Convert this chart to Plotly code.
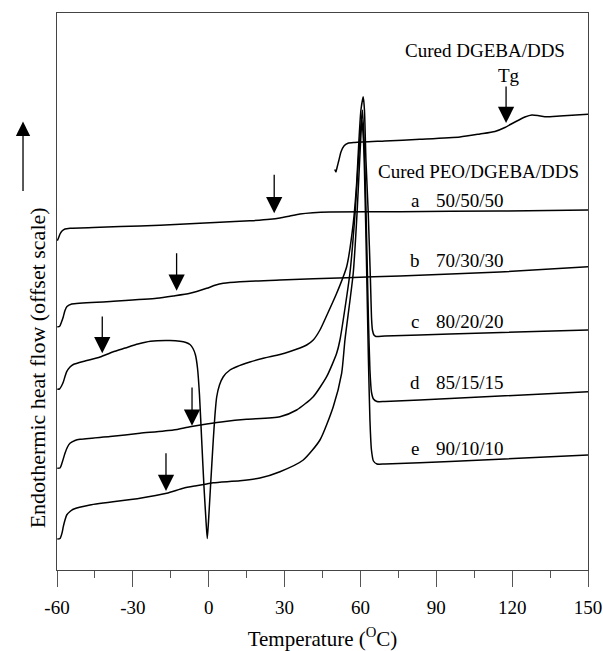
import plotly.graph_objects as go

# DSC traces, heat flow in arbitrary offset units
temp_neat = [49.84, 50.32, 50.71, 51.50, 52.30, 53.48, 55.06, 57.83, 69.69, 83.53, 99.35,
             107.26, 113.19, 117.14, 121.10, 125.05, 127.82, 130.19, 132.96, 138.89, 150.0]
hf_neat = [40.05, 39.8, 40.2, 41.0, 41.8, 42.4, 42.67, 42.75, 42.9, 43.07, 43.3,
           43.6, 43.85, 44.25, 44.8, 45.3, 45.5, 45.45, 45.33, 45.4, 45.57]

temp_a = [-59.88, -59.41, -58.81, -58.02, -56.84, -54.86, -43.0, -27.18, -11.36, 4.45,
          16.31, 24.22, 28.18, 32.13, 36.09, 41.23, 47.95, 75.63, 115.17, 150.0]
hf_a = [32.93, 33.2, 33.6, 33.9, 34.1, 34.18, 34.28, 34.4, 34.57, 34.77,
        34.92, 35.07, 35.2, 35.4, 35.6, 35.73, 35.8, 35.83, 35.9, 36.0]

temp_b = [-59.88, -59.01, -58.22, -57.51, -56.84, -56.05, -54.19, -40.35, -20.58, -14.01,
          -7.41, -0.81, 2.47, 5.76, 12.36, 28.18, 54.55, 75.63, 115.17, 150.0]
hf_b = [24.33, 24.35, 24.8, 25.33, 25.95, 26.35, 26.6, 26.83, 27.17, 27.4,
        27.67, 28.17, 28.47, 28.67, 28.83, 29.0, 29.23, 29.4, 29.8, 30.33]

temp_c = [-59.88, -59.01, -58.22, -57.51, -56.84, -56.16, -54.86, -53.55, -48.93, -43.0,
          -38.0, -33.0, -28.0, -23.0, -15.32, -11.36, -8.99, -7.41, -6.22,
          -5.24, -4.44, -3.65, -2.78, -1.87, -1.16, -0.57, 0.02, 0.70, 1.80,
          2.47, 3.15, 4.26, 5.76, 8.41, 11.06, 16.31, 21.57, 28.18, 32.13,
          36.09, 38.74, 41.34, 43.99, 46.76, 50.60, 54.55, 57.16, 58.5, 59.41,
          60.2, 61.11, 61.59, 62.18, 63.09, 63.96, 64.43, 64.75, 65.35, 66.14,
          69.69, 95.4, 150.0]
hf_c = [18.07, 18.1, 18.4, 18.8, 19.35, 19.83, 20.3, 20.55, 20.9, 21.3,
        21.8, 22.2, 22.6, 22.88, 22.95, 22.88, 22.75, 22.55, 22.15,
        21.5, 20.2, 17.5, 13.0, 8.3, 5.3, 3.15, 5.3, 8.3, 13.0,
        15.5, 17.3, 18.5, 19.33, 20.0, 20.33, 20.8, 21.17, 21.55, 21.85,
        22.2, 22.5, 23.0, 24.0, 25.5, 27.67, 30.33, 34.67, 38.67, 43.0,
        46.0, 47.33, 46.0, 41.0, 35.7, 29.0, 25.0, 24.0, 23.5, 23.35,
        23.4, 23.6, 24.0]

temp_d = [-59.88, -58.81, -58.02, -56.84, -55.85, -54.86, -52.88, -50.91, -39.04, -27.18,
          -14.01, -7.41, -0.81, 6.43, 15.01, 28.18, 34.78, 41.34, 46.64, 50.60,
          51.90, 55.85, 57.83, 59.21, 60.2, 60.8, 61.59, 62.38, 63.17, 63.76,
          64.36, 65.15, 66.53, 69.69, 95.4, 150.0]
hf_d = [10.17, 10.2, 10.7, 11.67, 12.3, 12.67, 12.95, 13.07, 13.35, 13.67,
        14.0, 14.33, 14.6, 14.85, 15.07, 15.33, 16.0, 17.33, 19.33, 21.67,
        23.0, 29.7, 35.5, 41.0, 44.5, 46.0, 42.0, 34.0, 25.0, 20.0,
        17.8, 17.1, 16.85, 16.85, 17.15, 17.83]

temp_e = [-59.88, -58.81, -58.02, -57.51, -56.84, -56.16, -54.86, -53.55, -46.95, -27.18,
          -16.62, -10.06, -5.43, -0.81, 1.80, 12.36, 20.27, 28.18, 37.39, 43.99,
          49.25, 52.57, 53.88, 57.16, 58.62, 59.61, 60.2, 60.6, 61.19, 61.59,
          62.38, 63.17, 63.76, 64.36, 65.15, 66.53, 69.69, 95.4, 150.0]
hf_e = [3.1, 3.15, 3.7, 4.33, 5.0, 5.5, 5.85, 6.07, 6.5, 7.17,
        7.67, 8.17, 8.4, 8.6, 8.73, 8.93, 9.2, 9.83, 11.0, 13.0,
        16.33, 19.67, 23.0, 29.7, 35.5, 40.5, 43.5, 45.0, 43.0, 40.0,
        31.0, 21.0, 15.0, 12.0, 10.9, 10.6, 10.6, 10.85, 11.5]

# Glass-transition markers: temperature, arrow tail and tip heights
tg_temps = [117.6, 25.9, -12.7, -42.1, -6.6, -16.9]
tg_tail = [48.5, 39.67, 31.83, 25.5, 18.4, 11.83]
tg_tip = [44.7, 35.67, 27.93, 21.67, 14.43, 7.9]

# Sample labels
sample_letters = ["a", "b", "c", "d", "e"]
sample_ratios = ["50/50/50", "70/30/30", "80/20/20", "85/15/15", "90/10/10"]
label_heights = [37.0, 31.0, 24.83, 18.73, 12.17]

# Temperature axis ticks
tick_values = [-60, -30, 0, 30, 60, 90, 120, 150]
tick_text = ["-60", "-30", "0", "30", "60", "90", "120", "150"]

FONT = "Liberation Serif"

fig = go.Figure()
for t, h in [(temp_neat, hf_neat), (temp_a, hf_a), (temp_b, hf_b),
             (temp_c, hf_c), (temp_d, hf_d), (temp_e, hf_e)]:
    fig.add_trace(go.Scatter(x=t, y=h, mode="lines",
                             line=dict(color="black", width=1.5, shape="spline", smoothing=0.6),
                             hoverinfo="skip", showlegend=False))

annotations = []
for t, tail, tip in zip(tg_temps, tg_tail, tg_tip):
    annotations.append(dict(x=t, y=tip, ax=t, ay=tail, xref="x", yref="y", axref="x", ayref="y",
                            text="", showarrow=True, arrowhead=2, arrowsize=2.5, arrowwidth=1.3,
                            arrowcolor="black"))

annotations.append(dict(x=109.2, y=52.0, xref="x", yref="y", text="Cured DGEBA/DDS",
                        showarrow=False, font=dict(family=FONT, size=19, color="black")))
annotations.append(dict(x=118.7, y=49.5, xref="x", yref="y", text="Tg",
                        showarrow=False, font=dict(family=FONT, size=19, color="black")))
annotations.append(dict(x=106.6, y=39.83, xref="x", yref="y", text="Cured PEO/DGEBA/DDS",
                        showarrow=False, font=dict(family=FONT, size=19, color="black")))
for letter, ratio, h in zip(sample_letters, sample_ratios, label_heights):
    annotations.append(dict(x=81.6, y=h, xref="x", yref="y", text=letter, showarrow=False,
                            font=dict(family=FONT, size=19, color="black")))
    annotations.append(dict(x=89.0, y=h, xref="x", yref="y", text=ratio, showarrow=False,
                            xanchor="left", font=dict(family=FONT, size=19, color="black")))

# Y-axis title and its upward arrow
annotations.append(dict(x=-0.064, y=0.363, xref="paper", yref="paper",
                        text="Endothermic heat flow (offset scale)", textangle=-90,
                        showarrow=False, font=dict(family=FONT, size=22, color="black")))
annotations.append(dict(x=-0.064, y=0.805, xref="paper", yref="paper", text="",
                        showarrow=True, ax=0, ay=71, arrowhead=2, arrowsize=2.2,
                        arrowwidth=1.3, arrowcolor="black"))

fig.update_layout(
    width=603, height=651,
    margin=dict(l=57, r=15, t=13, b=81, autoexpand=False),
    paper_bgcolor="white", plot_bgcolor="white",
    annotations=annotations,
    font=dict(family=FONT, color="black"),
    xaxis=dict(range=[-60, 150], tickvals=tick_values, ticktext=tick_text,
               ticks="outside", ticklen=16, tickwidth=1, tickcolor="#555",
               ticklabelstandoff=4, automargin=False,
               minor=dict(ticks="outside", ticklen=7, dtick=15, tick0=-60, tickcolor="#555"),
               showline=True, linecolor="#444", linewidth=1, mirror=True,
               showgrid=False, zeroline=False,
               tickfont=dict(family=FONT, size=19, color="black"),
               title=dict(text="Temperature (<sup>O</sup>C)",
                          font=dict(family=FONT, size=21, color="black"), standoff=14)),
    yaxis=dict(range=[0, 55.7], showticklabels=False, ticks="", automargin=False,
               showline=True, linecolor="#444", linewidth=1, mirror=True,
               showgrid=False, zeroline=False),
)

fig.write_html("out.html")
